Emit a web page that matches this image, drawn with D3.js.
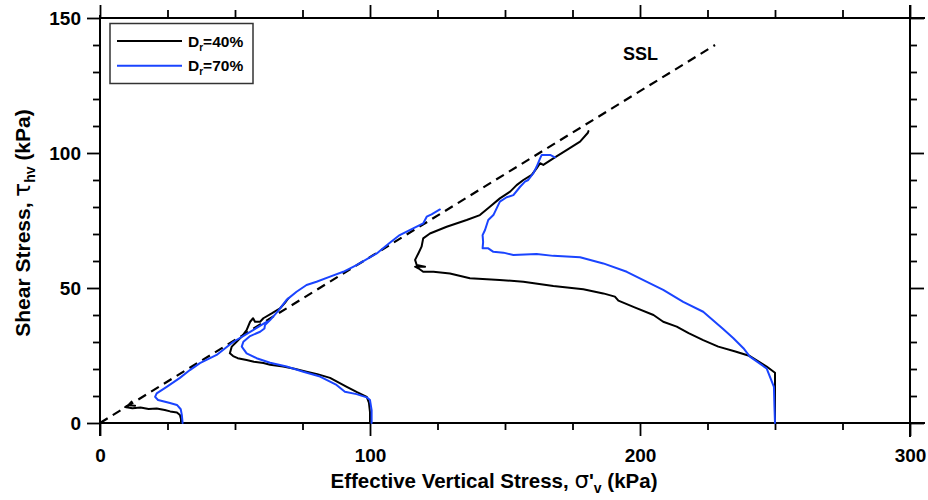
<!DOCTYPE html>
<html>
<head>
<meta charset="utf-8">
<script src="https://cdn.jsdelivr.net/npm/d3@7"></script>
<style>
  html, body { margin: 0; padding: 0; background: #fff; }
  svg { display: block; font-family: "Liberation Sans", Arial, sans-serif; font-weight: bold; }
</style>
</head>
<body>
<svg id="chart" width="928" height="500"></svg>
<script>
// ---------- data (effective vertical stress σ'v, shear stress τhv), kPa ----------
const xMajorTicks = [0, 100, 200, 300];
const yMajorTicks = [0, 50, 100, 150];
const seriesNames = ["D_r=40%", "D_r=70%"];
const seriesColors = ["#000000", "#1a44ff"];

// SSL (steady state line)
const sslLine = [[0, 0], [227.8, 140]];

// Dr = 40 %  (black)
const dr40_s30 = [[30,0],[30,1.5],[29.6,3],[28.5,3.9],[26,4.3],[24,4.8],[21,5.4],[18,5.2],[15,5.7],[12,5.5],[9.3,5.9],[10.5,6.6],[11.7,7.9],[11,6.6],[13,6.4]];
const dr40_s100 = [[100,0],[100,4],[99.6,7.5],[98.8,9.7],[95,11.5],[91.4,13.4],[85.2,16.7],[80.5,18.1],[76.5,19],[72,20.1],[67.8,20.9],[63,21.6],[60.5,22.2],[57,22.7],[54.3,23.3],[51,24],[49.3,24.8],[48.1,25.8],[48.8,28.3],[50.6,30.1],[52.5,32],[54.3,34.4],[55.6,37.5],[56.7,38.8],[57.4,37.5],[59.3,37.5],[60.5,38.8],[63.6,40.6],[66.7,42.5],[68.5,44.5],[69.8,46.2]];
const dr40_s250 = [[250,0],[250,18.6],[246.9,20.9],[240.7,24.8],[235,26.6],[229,28.3],[223.4,30.7],[218,33.3],[213.6,35.7],[208.6,37.5],[205,40],[198,42.8],[192,45.3],[190.7,46.8],[186.4,48],[179,49.5],[167.9,50.7],[156.8,52.3],[148,53],[137,53.6],[129.6,55.4],[123.5,56],[119.7,56],[117.9,57.3],[116.7,57.9],[120.4,57.9],[117.3,58.5],[116.7,60.4],[117.9,62.8],[119.1,65.3],[119.7,68.4],[122.2,70.2],[128.4,72.7],[135.8,75.2],[140.7,77],[144.4,80.1],[148.1,83.2],[151.9,85.7],[154.3,88.1],[156.8,90],[159.9,91.9],[161.7,94.3],[163,96.2],[164.2,95.6],[167.9,98],[172.8,101.1],[177.8,104.2],[180.7,107.5],[180.9,108.1]];

// Dr = 70 %  (blue)
const dr70_s30 = [[30.6,0],[30.3,3],[29.9,5.1],[28.5,6.7],[25.9,7.4],[24.1,7.9],[21.5,8.5],[20.4,9.7],[21,11],[24.7,13.4],[29.6,16.7],[33.3,19.6],[37,22.2],[43.2,25.2],[49.3,30],[53,32.2],[57,34.6],[60,36.4],[62,37.6]];
const dr70_s100 = [[100.6,0],[100.6,4.8],[100,8.5],[98.8,9.5],[95,10.7],[90.7,11.6],[87.6,14.1],[81.5,17.2],[75.3,19],[69.1,20.9],[63,22.3],[58,24],[54.3,25.8],[52.5,28.3],[53.1,30.1],[55.6,32.2],[59.3,33.8],[60.9,35],[61.1,36.3],[63,38.1],[66,41.5],[69.1,45.6],[72.8,48.6],[76.5,51.1],[80.2,52.3],[85.2,54.2],[90.1,56],[95,58.5],[102.5,62.8],[107,66.5],[111,69.6],[116,72.1],[119.7,73.9],[121,76.4],[122.8,77.3],[125.9,79.1]];
const dr70_s250 = [[250,0],[249.8,6],[249.6,13.4],[246.9,20.2],[240.7,24.6],[238.3,27.7],[234.6,31.4],[230.9,34.7],[223.4,41.2],[216,44.9],[208.6,49.3],[203.7,51.7],[195.1,56],[186.4,59.1],[177.8,61.4],[167.9,61.9],[161.7,62.6],[153.1,62.2],[149.4,63.1],[145.7,63.4],[143.8,64.7],[141.7,64.7],[141.9,67.1],[141.7,69.6],[142.6,71.5],[143.8,75.2],[145.7,77],[148.1,82],[150.6,83.6],[153.1,84.4],[155.6,87.5],[157.4,89.4],[158.6,90],[160.5,92.5],[161.7,94.9],[163,98],[163.6,99.3],[166.7,99.3],[168.5,98.4]];

// ---------- layout ----------
const svg = d3.select("#chart");
const x = d3.scaleLinear().domain([0, 300]).range([100, 910]);
const y = d3.scaleLinear().domain([0, 150]).range([423, 18]);

const xMinor = d3.range(0, 301, 25).filter(v => !xMajorTicks.includes(v));
const yMinor = d3.range(0, 151, 10).filter(v => !yMajorTicks.includes(v));

function styleAxis(g) {
  g.select(".domain").remove();
  g.selectAll(".tick line").attr("stroke", "#000").attr("stroke-width", 1.8);
}
const labelFont = 19;

// bottom
svg.append("g").attr("transform", `translate(0,${y(0)})`)
  .call(d3.axisBottom(x).tickValues(xMinor).tickSize(7).tickFormat(""))
  .call(styleAxis);
svg.append("g").attr("transform", `translate(0,${y(0)})`)
  .call(d3.axisBottom(x).tickValues(xMajorTicks).tickSize(13).tickPadding(12).tickFormat(d3.format("d")))
  .call(styleAxis)
  .call(g => g.selectAll("text").attr("font-size", labelFont).attr("font-weight", "bold")
     .attr("font-family", "Liberation Sans, Arial, sans-serif").attr("fill", "#000").attr("dy", "0.72em"));
// top
svg.append("g").attr("transform", `translate(0,${y(150)})`)
  .call(d3.axisTop(x).tickValues(xMinor).tickSize(8).tickFormat(""))
  .call(styleAxis);
svg.append("g").attr("transform", `translate(0,${y(150)})`)
  .call(d3.axisTop(x).tickValues(xMajorTicks).tickSize(13).tickFormat(""))
  .call(styleAxis);
// left
svg.append("g").attr("transform", `translate(${x(0)},0)`)
  .call(d3.axisLeft(y).tickValues(yMinor).tickSize(7).tickFormat(""))
  .call(styleAxis);
svg.append("g").attr("transform", `translate(${x(0)},0)`)
  .call(d3.axisLeft(y).tickValues(yMajorTicks).tickSize(13).tickPadding(6).tickFormat(d3.format("d")))
  .call(styleAxis)
  .call(g => g.selectAll("text").attr("font-size", labelFont).attr("font-weight", "bold")
     .attr("font-family", "Liberation Sans, Arial, sans-serif").attr("fill", "#000"));
// right
svg.append("g").attr("transform", `translate(${x(300)},0)`)
  .call(d3.axisRight(y).tickValues(yMinor).tickSize(7).tickFormat(""))
  .call(styleAxis);
svg.append("g").attr("transform", `translate(${x(300)},0)`)
  .call(d3.axisRight(y).tickValues(yMajorTicks).tickSize(14).tickFormat(""))
  .call(styleAxis);

// frame lines (with the small overshoot of the original)
const frame = svg.append("g").attr("stroke", "#000").attr("stroke-width", 2);
frame.append("line").attr("x1", x(0)).attr("x2", x(0)).attr("y1", y(150) - 3).attr("y2", y(0) + 13);
frame.append("line").attr("x1", x(300)).attr("x2", x(300)).attr("y1", y(150) - 13).attr("y2", y(0) + 14);
frame.append("line").attr("x1", x(0)).attr("x2", x(300) + 15).attr("y1", y(0)).attr("y2", y(0));
frame.append("line").attr("x1", x(0)).attr("x2", x(300) + 15).attr("y1", y(150)).attr("y2", y(150));

// ---------- series ----------
const line = d3.line().x(d => x(d[0])).y(d => y(d[1]));

svg.append("path").datum(sslLine).attr("d", line)
  .attr("fill", "none").attr("stroke", "#000").attr("stroke-width", 2.2)
  .attr("stroke-dasharray", "9,6");

const curves = [
  [dr40_s30, 0], [dr40_s100, 0], [dr40_s250, 0],
  [dr70_s30, 1], [dr70_s100, 1], [dr70_s250, 1]
];
curves.forEach(([data, s]) => {
  svg.append("path").datum(data).attr("d", line)
    .attr("fill", "none").attr("stroke", seriesColors[s]).attr("stroke-width", 2)
    .attr("stroke-linejoin", "round").attr("stroke-linecap", "round");
});

// SSL label
svg.append("text").attr("x", 623).attr("y", 60).attr("font-size", 18).text("SSL");

// ---------- legend ----------
const lg = svg.append("g");
lg.append("rect").attr("x", 110).attr("y", 23.5).attr("width", 143).attr("height", 60)
  .attr("fill", "#fff").attr("stroke", "#333").attr("stroke-width", 1.5);
seriesNames.forEach((name, i) => {
  const yy = 41 + i * 24.7;
  lg.append("line").attr("x1", 117).attr("x2", 182).attr("y1", yy).attr("y2", yy)
    .attr("stroke", seriesColors[i]).attr("stroke-width", 2);
  const [main, rest] = name.split("_");
  const t = lg.append("text").attr("x", 188).attr("y", yy + 5.5).attr("font-size", 15.5);
  t.append("tspan").text(main);
  t.append("tspan").attr("font-size", 10).attr("dy", 4).text(rest.slice(0, 1));
  t.append("tspan").attr("dy", -4).text(rest.slice(1));
});

// ---------- axis titles ----------
const xt = svg.append("text").attr("x", 494).attr("y", 488).attr("text-anchor", "middle").attr("font-size", 20.5);
xt.append("tspan").text("Effective Vertical Stress, ");
xt.append("tspan").attr("font-weight", "normal").attr("font-family", "DejaVu Sans, sans-serif").attr("font-size", 23).text("σ");
xt.append("tspan").text("'");
xt.append("tspan").attr("font-size", 14).attr("dy", 5).text("v");
xt.append("tspan").attr("dy", -5).text(" (kPa)");

const yt = svg.append("text").attr("transform", "translate(30,223) rotate(-90)")
  .attr("text-anchor", "middle").attr("font-size", 21);
yt.append("tspan").text("Shear Stress,  ");
yt.append("tspan").attr("font-weight", "normal").attr("font-family", "DejaVu Sans, sans-serif").attr("font-size", 23).text("τ");
yt.append("tspan").attr("font-size", 14).attr("dy", 5).text("hv");
yt.append("tspan").attr("dy", -5).text(" (kPa)");
</script>
</body>
</html>
